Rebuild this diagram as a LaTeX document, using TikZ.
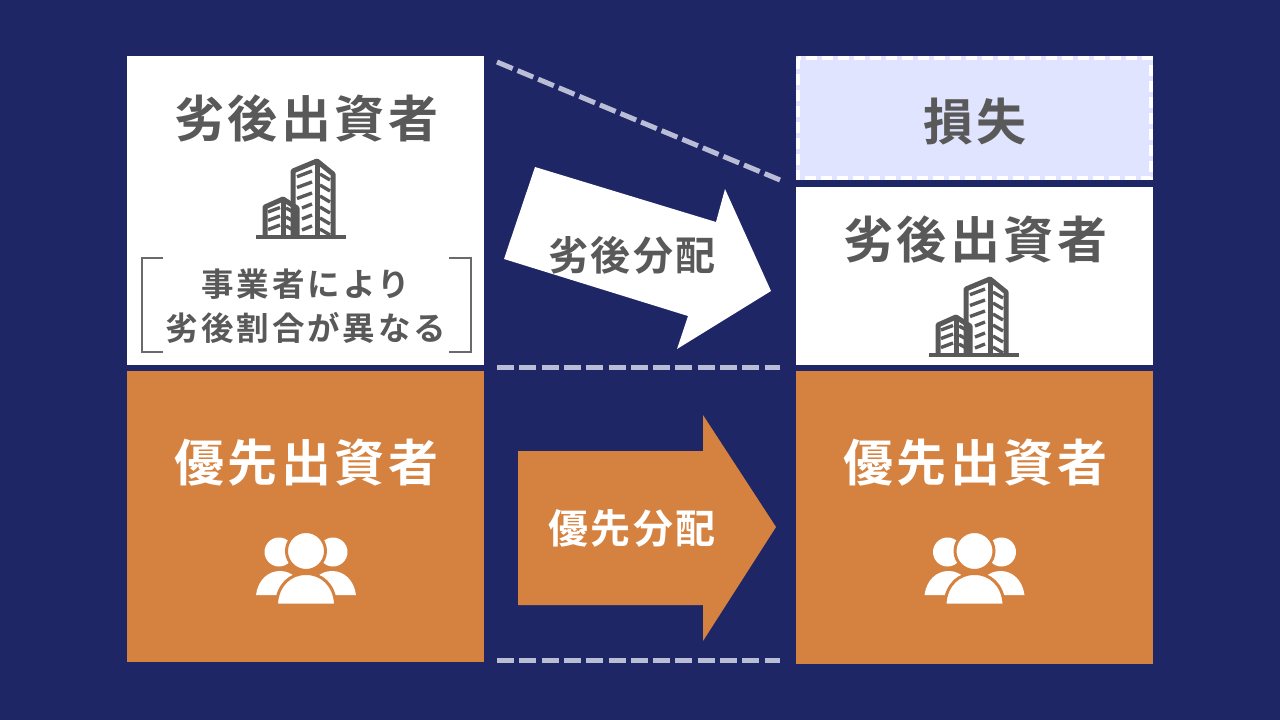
\documentclass[tikz,border=0pt]{standalone}
\usepackage{fontspec}
\newfontfamily\cjkBig[LetterSpace=7]{Noto Sans CJK JP Bold}
\newfontfamily\cjkMid[LetterSpace=6]{Noto Sans CJK JP Bold}
\newfontfamily\cjkSmall[LetterSpace=9]{Noto Sans CJK JP Bold}
\definecolor{navy}{HTML}{1F2666}
\definecolor{ochre}{HTML}{D58241}
\definecolor{lav}{HTML}{E0E4FF}
\definecolor{ink}{HTML}{595959}
\definecolor{dashc}{HTML}{B9BDD6}
\tikzset{
  px/.style={x=1pt,y=-1pt},
  panel/.style={draw=none,inner sep=0pt,outer sep=0pt,anchor=north west},
  bigtext/.style={inner sep=0pt,font=\cjkBig\fontsize{50}{50}\selectfont},
  midtext/.style={inner sep=0pt,font=\cjkMid\fontsize{40}{40}\selectfont},
  smalltext/.style={inner sep=0pt,text=ink,font=\cjkSmall\fontsize{32.5}{32.5}\selectfont},
  guide/.style={draw=dashc,line width=5pt,dash pattern=on 17pt off 5.3pt},
  bracket/.style={draw=ink!90,line width=2.6pt},
  pics/building/.style={code={
    \fill[ink] (256,234.5) rectangle (346,239);
    \begin{scope}[draw=ink,line width=5pt,line join=round]
      \draw (293,236) -- (293,171) -- (317,161) -- (333,174) -- (333,236);
      \draw (317,161) -- (317,236);
      \draw (265,236) -- (265,207) -- (283,199) -- (297,208) -- (297,236);
      \draw (283,199) -- (283,236);
    \end{scope}
    \begin{scope}[draw=ink,line width=3.4pt]
      \draw (297,176.7) -- (312,171);
      \draw (297,187.5) -- (312,182);
      \draw (297,198.5) -- (312,193);
      \draw (302,208) -- (312,204);
      \draw (302,219) -- (312,215);
      \draw (302,230) -- (312,226);
      \foreach \yy in {174,185,196,207,218,229}{
        \draw (320,\yy) -- (330,\yy+6);
      }
      \foreach \yy in {212,220.5,229.5}{
        \draw (268,\yy) -- (280,\yy-4.5);
      }
      \foreach \yy in {208,217,226}{
        \draw (286,\yy) -- (295,\yy+5);
      }
    \end{scope}
  }},
  pics/people/.style={code={
    \fill[white] (279,552) circle (14.5);
    \fill[white] (333,552) circle (14.5);
    \fill[white] (256,595) .. controls (258,580) and (268,571) .. (280,571)
      .. controls (292,571) and (302,580) .. (304,595) -- cycle;
    \fill[white] (308,595) .. controls (310,580) and (320,571) .. (332,571)
      .. controls (344,571) and (354,580) .. (356,595) -- cycle;
    \filldraw[fill=white,draw=ochre,line width=3pt] (306,551) circle (19.5);
    \filldraw[fill=white,draw=ochre,line width=3pt] (276.5,605) -- (276.5,603)
      .. controls (278,585) and (290,573.5) .. (306,573.5)
      .. controls (322,573.5) and (334,585) .. (335.5,603) -- (335.5,605) -- cycle;
  }},
}
\begin{document}
\begin{tikzpicture}[px]
\useasboundingbox (0,0) rectangle (1280,720);
\fill[navy] (0,0) rectangle (1280,720);

\node[panel,fill=white,minimum width=357pt,minimum height=309pt] (ltop) at (127,56) {};
\node[panel,fill=ochre,minimum width=357pt,minimum height=291pt] (lbot) at (127,371) {};
\node[panel,fill=lav,minimum width=357pt,minimum height=124pt] (loss) at (796,56) {};
\node[panel,fill=white,minimum width=357pt,minimum height=178pt] (rtop) at (796,187) {};
\node[panel,fill=ochre,minimum width=357pt,minimum height=293pt] (rbot) at (796,371) {};

\draw[white,line width=3.6pt,dash pattern=on 11pt off 5pt] (797.8,57.8) rectangle (1151.2,178.2);

\coordinate (g1a) at (497,62);   \coordinate (g1b) at (780,180);
\coordinate (g2a) at (497,367.5);\coordinate (g2b) at (780,367.5);
\coordinate (g3a) at (497,660.5);\coordinate (g3b) at (780,660.5);
\draw[guide] (g1a) -- (g1b);
\draw[guide] (g2a) -- (g2b);
\draw[guide] (g3a) -- (g3b);

\fill[white] (535,167) -- (504,259) -- (688,316) -- (677,349) -- (771,291) -- (725,189) -- (716,222) -- cycle;
\fill[ochre] (518,451) -- (703,451) -- (703,415) -- (776,527) -- (703,641) -- (703,605) -- (518,605) -- cycle;

\node[bigtext,text=ink] (t1) at (306,118.5) {劣後出資者};
\node[bigtext,text=ink] (t2) at (975,122) {損失};
\node[bigtext,text=ink] (t3) at (975,239.5) {劣後出資者};
\node[bigtext,text=white] (t4) at (306,462.5) {優先出資者};
\node[bigtext,text=white] (t5) at (975,462.5) {優先出資者};
\node[midtext,text=ink] (t6) at (632,255) {劣後分配};
\node[midtext,text=white] (t7) at (632,528) {優先分配};
\node[smalltext] (t8) at (306,284) {事業者により};
\node[smalltext] (t9) at (306,328) {劣後割合が異なる};

\draw[bracket] (163,258) -- (142,258) -- (142,352) -- (163,352);
\draw[bracket] (449,258) -- (471,258) -- (471,352) -- (449,352);

\pic {building};
\pic[shift={(673,118)}] {building};
\pic {people};
\pic[shift={(668.5,0)}] {people};
\end{tikzpicture}
\end{document}
